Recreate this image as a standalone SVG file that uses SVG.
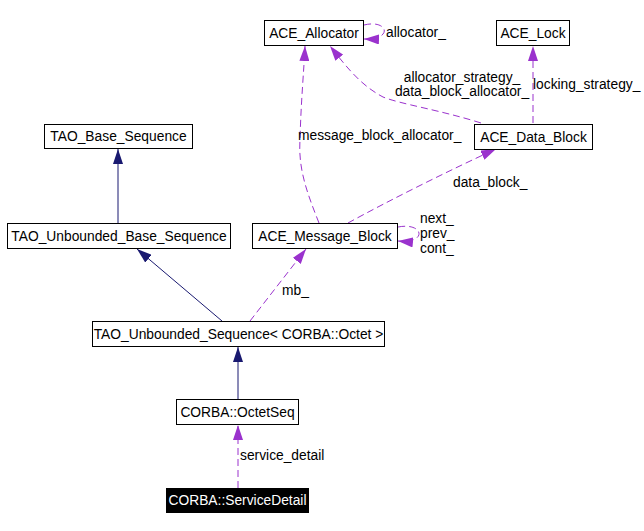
<svg xmlns="http://www.w3.org/2000/svg" width="644" height="531" viewBox="0 0 644 531">
<style>
  .box { fill: #ffffff; stroke: #000000; stroke-width: 1; }
  .lbl { font-family: "Liberation Sans", Arial, sans-serif; font-size: 13.8px; fill: #000000; }
  .ctr { text-anchor: middle; }
  .inh { fill: none; stroke: #191970; stroke-width: 1; }
  .use { fill: none; stroke: #9a32cd; stroke-width: 1; stroke-dasharray: 7,4; }
</style>
<defs>
  <marker id="aInh" viewBox="0 0 15 10" refX="15" refY="5" markerWidth="15" markerHeight="10" markerUnits="userSpaceOnUse" orient="auto">
    <path d="M0,0 L15,5 L0,10 z" fill="#191970"/>
  </marker>
  <marker id="aUse" viewBox="0 0 15 10" refX="15" refY="5" markerWidth="15" markerHeight="10" markerUnits="userSpaceOnUse" orient="auto">
    <path d="M0,0 L15,5 L0,10 z" fill="#9a32cd"/>
  </marker>
</defs>
<rect width="644" height="531" fill="#ffffff"/>

<g id="connectors">
  <path class="inh" d="M118,223 L118,149" marker-end="url(#aInh)"/>
  <path class="inh" d="M222,321 L137,249" marker-end="url(#aInh)"/>
  <path class="inh" d="M238,399 L238,347" marker-end="url(#aInh)"/>
  <path class="use" d="M238,488 L238,425" marker-end="url(#aUse)"/>
  <path class="use" d="M250,321 L306,249" marker-end="url(#aUse)"/>
  <path class="use" d="M319,223 C308,195 298,170 300,140 C301,100 304,70 305,46" marker-end="url(#aUse)"/>
  <path class="use" d="M348,223 C390,200 450,170 496,149" marker-end="url(#aUse)"/>
  <path class="use" d="M481,123 C440,110 400,104 383,97 C360,85 345,65 330,46" marker-end="url(#aUse)"/>
  <path class="use" d="M533,123 L533,46" marker-end="url(#aUse)"/>
  <path class="use" d="M364,25 C388,19 394,40 364,39" marker-end="url(#aUse)"/>
  <path class="use" d="M398,227 C424,222 428,244 398,241" marker-end="url(#aUse)"/>
  <text class="lbl" x="240" y="460">service_detail</text>
  <text class="lbl" x="282" y="295">mb_</text>
  <text class="lbl" x="298" y="140">message_block_allocator_</text>
  <text class="lbl" x="453" y="187">data_block_</text>
  <text class="lbl ctr" x="462" y="82">allocator_strategy_</text>
  <text class="lbl ctr" x="462" y="96">data_block_allocator_</text>
  <text class="lbl" x="533" y="89">locking_strategy_</text>
  <text class="lbl" x="386" y="37">allocator_</text>
  <text class="lbl" x="420" y="223">next_</text>
  <text class="lbl" x="420" y="238">prev_</text>
  <text class="lbl" x="420" y="253">cont_</text>
</g>

<g id="ACE_Allocator">
  <rect class="box" x="264.5" y="20.5" width="99" height="25"/>
  <text class="lbl ctr" x="314" y="38">ACE_Allocator</text>
</g>
<g id="ACE_Lock">
  <rect class="box" x="496.5" y="20.5" width="73" height="25"/>
  <text class="lbl ctr" x="533" y="38">ACE_Lock</text>
</g>
<g id="TAO_Base_Sequence">
  <rect class="box" x="44.5" y="124.5" width="148" height="24"/>
  <text class="lbl ctr" x="118.5" y="141">TAO_Base_Sequence</text>
</g>
<g id="ACE_Data_Block">
  <rect class="box" x="474.5" y="124.5" width="118" height="25"/>
  <text class="lbl ctr" x="533.5" y="142">ACE_Data_Block</text>
</g>
<g id="TAO_Unbounded_Base_Sequence">
  <rect class="box" x="7.5" y="223.5" width="223" height="25"/>
  <text class="lbl ctr" x="119" y="241">TAO_Unbounded_Base_Sequence</text>
</g>
<g id="ACE_Message_Block">
  <rect class="box" x="252.5" y="223.5" width="145" height="25"/>
  <text class="lbl ctr" x="325" y="241">ACE_Message_Block</text>
</g>
<g id="TAO_Unbounded_Sequence">
  <rect class="box" x="92.5" y="321.5" width="292" height="25"/>
  <text class="lbl ctr" x="238.5" y="339">TAO_Unbounded_Sequence&lt; CORBA::Octet &gt;</text>
</g>
<g id="CORBA_OctetSeq">
  <rect class="box" x="176.5" y="399.5" width="122" height="25"/>
  <text class="lbl ctr" x="237.5" y="417">CORBA::OctetSeq</text>
</g>
<g id="CORBA_ServiceDetail">
  <rect x="166" y="488" width="143" height="25" fill="#000000"/>
  <text class="lbl ctr" x="237.5" y="505" style="fill:#ffffff">CORBA::ServiceDetail</text>
</g>
</svg>
